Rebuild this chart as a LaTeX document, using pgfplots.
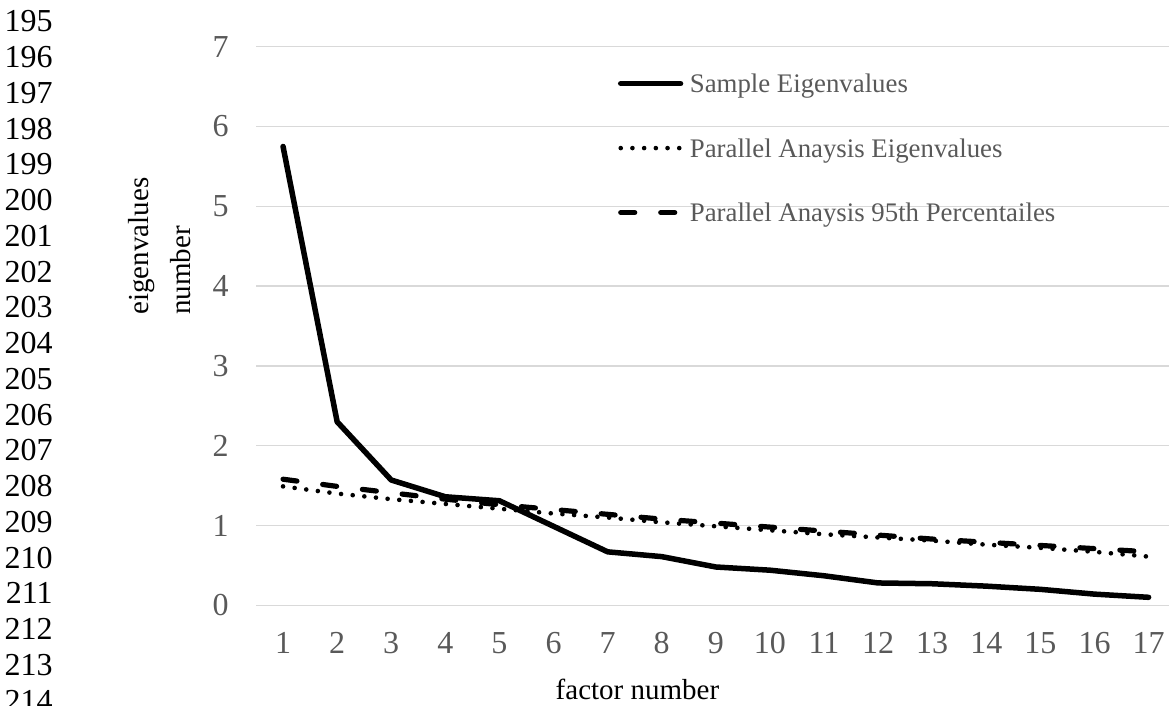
\documentclass[border=0pt]{standalone}
\usepackage{fontspec}
\setmainfont{Liberation Serif}
\usepackage{pgfplots}
\usepackage{pgfplotstable}
\pgfplotsset{compat=1.18}

\definecolor{tickgray}{HTML}{595959}
\definecolor{gridgray}{HTML}{D9D9D9}

% eigenvalues
\pgfplotstableread{
k  sample  pa     pa95
1  5.75    1.49   1.58
2  2.30    1.40   1.49
3  1.57    1.33   1.41
4  1.36    1.27   1.33
5  1.31    1.21   1.26
6  0.99    1.15   1.20
7  0.67    1.10   1.14
8  0.61    1.04   1.08
9  0.48    0.99   1.03
10 0.44    0.94   0.98
11 0.37    0.89   0.93
12 0.28    0.85   0.88
13 0.27    0.81   0.83
14 0.24    0.76   0.79
15 0.20    0.72   0.75
16 0.14    0.67   0.71
17 0.10    0.61   0.67
}\eigtable

\begin{document}
\begin{tikzpicture}
\useasboundingbox (0,0) rectangle (584.5pt,353pt);
\clip (0,0) rectangle (584.5pt,353pt);
\begin{axis}[
  at={(128pt,50.35pt)}, anchor=south west,
  scale only axis,
  width=456.5pt, height=279.3pt,
  xmin=0.5, xmax=17.377,
  ymin=0, ymax=7,
  xtick={1,...,17}, ytick={0,...,7},
  axis line style={draw=none},
  major tick length=0pt,
  ymajorgrids,
  grid style={gridgray, line width=0.75pt},
  /pgf/number format/assume math mode=true,
  tick label style={font=\fontsize{16}{18}\selectfont, text=tickgray, inner sep=0pt},
  yticklabel style={anchor=east, xshift=-13.5pt},
  xticklabel style={anchor=north, yshift=-13.2pt},
  xlabel={factor number},
  xlabel style={font=\fontsize{14.5}{16}\selectfont, inner sep=0pt,
    at={(axis description cs:0.4178,-0.1695)}, anchor=base},
  ylabel={eigenvalues\\number},
  ylabel style={font=\fontsize{14.5}{21}\selectfont, align=left, inner sep=0pt,
    at={(axis description cs:-0.1399,0.5197)}, anchor=north west},
  legend cell align=left,
  legend style={at={(axis description cs:0.3932,0.958)}, anchor=north west,
    draw=none, fill=none, inner sep=0pt,
    font=\fontsize{13.4}{16}\selectfont, text=tickgray,
    nodes={inner sep=0pt, text height=11pt, text depth=2pt},
    row sep=19.25pt, column sep=2pt},
  legend image code/.code={
    \path (0pt,0pt) (32.5pt,0pt);
    \draw[#1] (1.3pt,0pt) -- (31.2pt,0pt);
  },
]
\addplot[black, line width=2.75pt, line join=round, line cap=round]
  table[x=k, y=sample] {\eigtable};
\addlegendentry{Sample Eigenvalues}
\addplot[black, line width=2.3pt, line cap=round, dash pattern=on 0pt off 5.85pt]
  table[x=k, y=pa] {\eigtable};
\addlegendentry{Parallel Anaysis Eigenvalues}
\addplot[black, line width=2.6pt, line cap=round, dash pattern=on 7pt off 13pt]
  table[x=k, y=pa95] {\eigtable};
\addlegendentry{Parallel Anaysis 95th Percentailes}
\end{axis}
% manuscript line numbers down the left margin
\foreach \n [count=\k from 0] in {195,...,214}
  \node[anchor=base east, inner sep=0pt, font=\fontsize{16}{18}\selectfont]
    at (26.5pt,{337pt-17.875pt*\k}) {\n};
\end{tikzpicture}
\end{document}
